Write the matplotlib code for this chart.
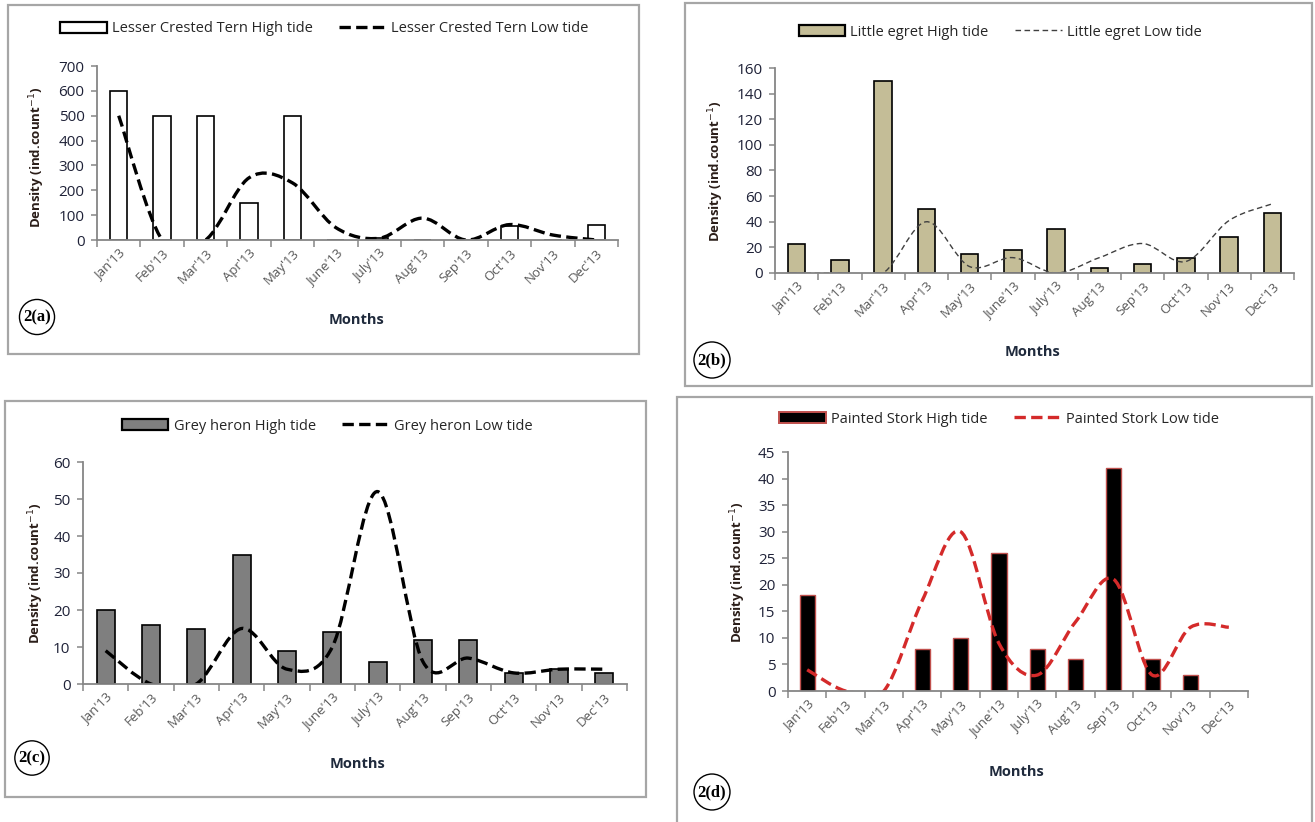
import numpy as np
import matplotlib
matplotlib.use("Agg")
import matplotlib.pyplot as plt
from matplotlib.path import Path
from matplotlib.patches import PathPatch, Rectangle
from matplotlib.lines import Line2D
from matplotlib.ticker import FixedLocator, NullFormatter

# ---------------- data ----------------
months = ["Jan'13", "Feb'13", "Mar'13", "Apr'13", "May'13", "June'13",
          "July'13", "Aug'13", "Sep'13", "Oct'13", "Nov'13", "Dec'13"]

tern_high = [600, 500, 500, 150, 500, 0, 10, 0, 0, 55, 0, 60]
tern_low = [500, 0, 0, 250, 230, 50, 7, 88, 0, 62, 20, 0]

egret_high = [23, 10, 150, 50, 15, 18, 34, 4, 7, 12, 28, 47]
egret_low = [0, 0, 0, 40, 5, 12, 0, 12, 23, 9, 41, 54]

heron_high = [20, 16, 15, 35, 9, 14, 6, 12, 12, 3, 4, 3]
heron_low = [9, 0, 0, 15, 4, 10, 52, 6, 7, 3, 4, 4]

stork_high = [18, 0, 0, 8, 10, 26, 8, 6, 42, 6, 3, 0]
stork_low = [4, 0, 0, 17, 30, 9, 3, 13, 21, 3, 12, 12]

W, H = 1315, 822
plt.rcParams['font.family'] = ['Open Sans', 'DejaVu Sans']

fig = plt.figure(figsize=(W / 100, H / 100), dpi=100)
fig.patch.set_facecolor('white')


def fx(x):
    return x / W


def fy(y):
    return 1 - y / H


def smooth_path(xs, ys):
    xs = np.asarray(xs, float)
    ys = np.asarray(ys, float)
    n = len(xs)
    verts = [(xs[0], ys[0])]
    codes = [Path.MOVETO]
    for i in range(n - 1):
        j0 = max(i - 1, 0)
        j3 = min(i + 2, n - 1)
        c1 = (xs[i] + (xs[i + 1] - xs[j0]) / 6, ys[i] + (ys[i + 1] - ys[j0]) / 6)
        c2 = (xs[i + 1] - (xs[j3] - xs[i]) / 6, ys[i + 1] - (ys[j3] - ys[i]) / 6)
        verts += [c1, c2, (xs[i + 1], ys[i + 1])]
        codes += [Path.CURVE4] * 3
    return Path(verts, codes)


def panel(box, axbox, high, low, ymax, ystep, bar_fc, bar_ec, bar_lw,
          line_color, line_lw, dashes, labels, legend_c, months_pos,
          tag, tag_pos, ylab_pos):
    # border box
    bx0, by0, bx1, by1 = box
    fig.patches.append(Rectangle((fx(bx0), fy(by1)), fx(bx1 - bx0), (by1 - by0) / H,
                                 transform=fig.transFigure, fill=False,
                                 edgecolor='#a6a6a6', linewidth=1.6, zorder=0))
    x0, ytop, x1, ybot = axbox
    ax = fig.add_axes([fx(x0), fy(ybot), fx(x1 - x0), (ybot - ytop) / H])
    ax.patch.set_alpha(0)
    xs = np.arange(len(months))
    ax.bar(xs, high, width=0.4, color=bar_fc, edgecolor=bar_ec,
           linewidth=bar_lw, zorder=2)
    pp = PathPatch(smooth_path(xs, low), fill=False, edgecolor=line_color,
                   linewidth=line_lw, linestyle=(0, dashes), zorder=3,
                   capstyle='butt')
    ax.add_patch(pp)
    ax.set_xlim(-0.5, len(months) - 0.5)
    ax.set_ylim(0, ymax)
    for s in ['top', 'right']:
        ax.spines[s].set_visible(False)
    for s in ['left', 'bottom']:
        ax.spines[s].set_color('#868686')
        ax.spines[s].set_linewidth(1.3)
        ax.spines[s].set_zorder(5)
    ax.set_yticks(np.arange(0, ymax + ystep / 2, ystep))
    ax.tick_params(axis='y', direction='out', length=4, width=1.1,
                   color='#868686', labelsize=11, labelcolor='#1f2238', pad=5)
    ax.xaxis.set_major_locator(FixedLocator(np.arange(-0.5, len(months), 1.0)))
    ax.xaxis.set_major_formatter(NullFormatter())
    ax.xaxis.set_minor_locator(FixedLocator(xs))
    ax.set_xticks(xs, months, minor=True)
    ax.tick_params(axis='x', which='major', direction='out', length=5,
                   width=1.1, color='#868686')
    ax.tick_params(axis='x', which='minor', length=0, labelsize=9.5,
                   labelcolor='#595959', pad=5)
    for lab in ax.get_xticklabels(minor=True):
        lab.set_rotation(45)
        lab.set_ha('right')
        lab.set_va('top')
        lab.set_rotation_mode('anchor')
    # legend
    h1 = Rectangle((0, 0), 1, 1, facecolor=bar_fc, edgecolor=bar_ec,
                   linewidth=bar_lw + 0.4)
    h2 = Line2D([], [], color=line_color, linewidth=line_lw,
                linestyle=(0, dashes))
    fig.legend([h1, h2], labels, loc='center',
               bbox_to_anchor=(fx(legend_c[0]), fy(legend_c[1])),
               bbox_transform=fig.transFigure, ncol=2, frameon=False,
               handlelength=3.2, handleheight=0.8, handletextpad=0.35,
               columnspacing=1.8, fontsize=10.5, labelcolor='#262626')
    fig.text(fx(months_pos[0]), fy(months_pos[1]), 'Months', ha='center',
             va='center', fontsize=10.5, fontweight='bold', color='#1f2a3c')
    fig.text(fx(ylab_pos[0]), fy(ylab_pos[1]),
             'Density (ind.count$^{-1}$)', rotation=90, ha='center',
             va='center', fontsize=9.5, fontweight='bold', color='#2a1d18')
    fig.text(fx(tag_pos[0]), fy(tag_pos[1]), tag, ha='center', va='center',
             fontsize=12, fontweight='bold', family='Liberation Serif',
             bbox=dict(boxstyle='circle,pad=0.22', facecolor='white',
                       edgecolor='black', linewidth=1.0))
    return ax


panel((8, 5, 639, 354), (97, 66, 618, 240), tern_high, tern_low, 700, 100,
      'white', 'black', 1.2, 'black', 2.4, (3.4, 1.6),
      ['Lesser Crested Tern High tide', 'Lesser Crested Tern Low tide'],
      (324, 29), (356, 320), '2(a)', (37, 317), (37, 157))

panel((685, 3, 1312, 386), (775, 68, 1294, 273), egret_high, egret_low, 160, 20,
      '#c4bd97', 'black', 1.2, '#404040', 1.0, (4, 2.5),
      ['Little egret High tide', 'Little egret Low tide'],
      (1000, 32), (1033, 352), '2(b)', (712, 360), (716, 171))

panel((5, 401, 646, 797), (83, 462, 627, 684), heron_high, heron_low, 60, 10,
      '#7f7f7f', 'black', 1.2, 'black', 2.4, (3.4, 1.6),
      ['Grey heron High tide', 'Grey heron Low tide'],
      (327, 426), (357, 764), '2(c)', (32, 758), (36, 573))

panel((677, 397, 1312, 824), (788, 452, 1248, 691), stork_high, stork_low, 45, 5,
      'black', '#c0504d', 1.0, '#d42a2a', 2.4, (3.4, 1.6),
      ['Painted Stork High tide', 'Painted Stork Low tide'],
      (999, 419), (1017, 772), '2(d)', (712, 792), (738, 572))

fig.savefig('out.png', dpi=100)
